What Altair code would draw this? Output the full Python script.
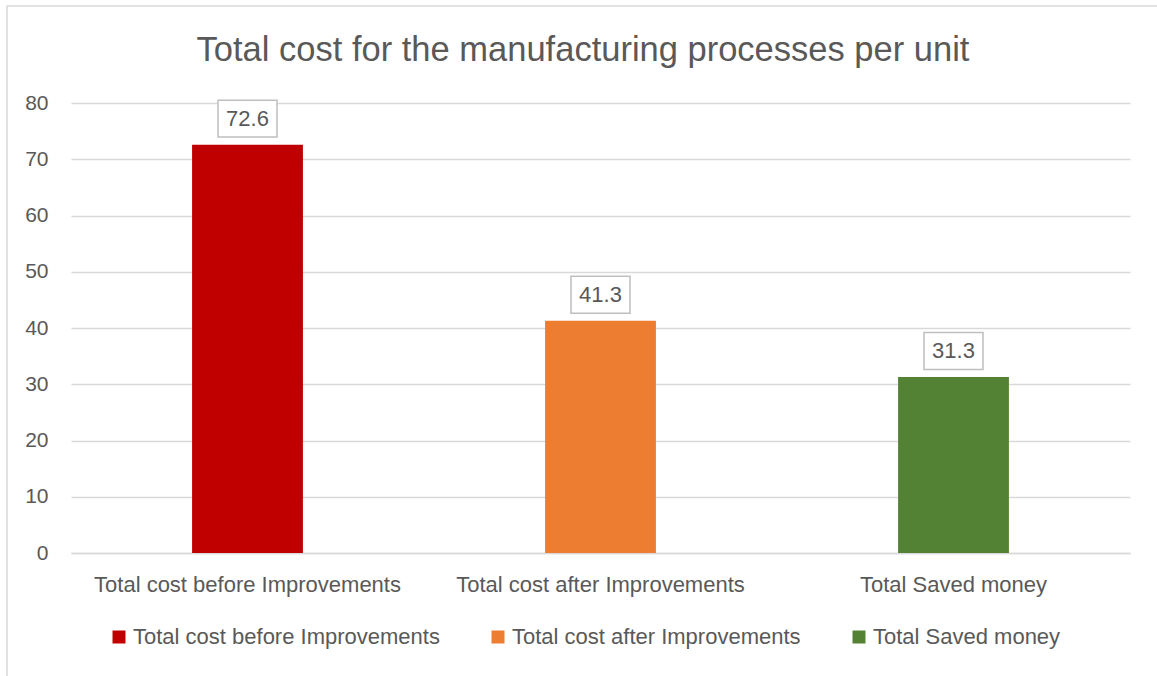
import altair as alt
import pandas as pd

# Chart data
categories = [
    "Total cost before Improvements",
    "Total cost after Improvements",
    "Total Saved money",
]
costs = [72.6, 41.3, 31.3]
bar_colors = ["#c00000", "#ed7d31", "#548235"]
y_ticks = [0, 10, 20, 30, 40, 50, 60, 70, 80]
chart_title = "Total cost for the manufacturing processes per unit"

FONT = "Liberation Sans"
TEXT_GREY = "#595959"
LINE_GREY = "#d9d9d9"

df = pd.DataFrame({"category": categories, "cost": costs})

x_enc = alt.X(
    "category:N",
    sort=categories,
    scale=alt.Scale(paddingInner=0.686, paddingOuter=0.343),
    axis=alt.Axis(
        title=None,
        labelAngle=0,
        labelFont=FONT,
        labelFontSize=22,
        labelColor=TEXT_GREY,
        labelPadding=21,
        labelLimit=0,
        ticks=False,
        domainColor=LINE_GREY,
        domainWidth=1.5,
    ),
)
y_enc = alt.Y(
    "cost:Q",
    scale=alt.Scale(domain=[0, 80], nice=False),
    axis=alt.Axis(
        title=None,
        values=y_ticks,
        labelFont=FONT,
        labelFontSize=21,
        labelColor=TEXT_GREY,
        labelPadding=23,
        ticks=False,
        domain=False,
        gridColor=LINE_GREY,
        gridWidth=1.5,
    ),
)

base = alt.Chart(df)

bars = base.mark_bar().encode(
    x=x_enc,
    y=y_enc,
    color=alt.Color(
        "category:N",
        sort=categories,
        scale=alt.Scale(domain=categories, range=bar_colors),
        legend=alt.Legend(
            title=None,
            orient="none",
            legendX=37,
            legendY=523,
            direction="horizontal",
            symbolType="square",
            symbolSize=169,
            symbolStrokeWidth=0,
            labelFont=FONT,
            labelFontSize=22,
            labelColor=TEXT_GREY,
            labelOffset=3,
            labelLimit=0,
            columnPadding=47,
        ),
    ),
)

# white call-out boxes behind the value labels
box_shape = "M-1,-0.627L1,-0.627L1,0.627L-1,0.627Z"
boxes = base.mark_point(
    shape=box_shape,
    size=3481,
    filled=True,
    fill="white",
    stroke="#bfbfbf",
    strokeWidth=1.5,
    opacity=1,
    yOffset=-26,
).encode(x=x_enc, y=y_enc)

labels = base.mark_text(
    font=FONT,
    fontSize=22,
    color=TEXT_GREY,
    baseline="middle",
    dy=-26,
).encode(x=x_enc, y=y_enc, text=alt.Text("cost:Q", format=".1f"))

single = alt.Chart(pd.DataFrame({"title": [chart_title]}))

# thin outer frame of the chart area
frame = single.mark_rect(
    filled=False, stroke=LINE_GREY, strokeWidth=1.5
).encode(
    x=alt.value(-64),
    x2=alt.value(1100),
    y=alt.value(-97),
    y2=alt.value(700),
)

# chart heading, centred over the frame
heading = single.mark_text(
    font=FONT,
    fontSize=34.5,
    color=TEXT_GREY,
    align="center",
    baseline="alphabetic",
).encode(
    x=alt.value(512),
    y=alt.value(-42),
    text="title:N",
)

chart = (
    alt.layer(frame, heading, bars, boxes, labels)
    .properties(
        width=1059,
        height=450,
        padding={"left": 71, "top": 103, "right": 27, "bottom": 123},
        autosize="none",
        background="white",
    )
    .configure_view(strokeWidth=0)
)

chart.save("out.html", embed_options={"renderer": "svg", "actions": False})
